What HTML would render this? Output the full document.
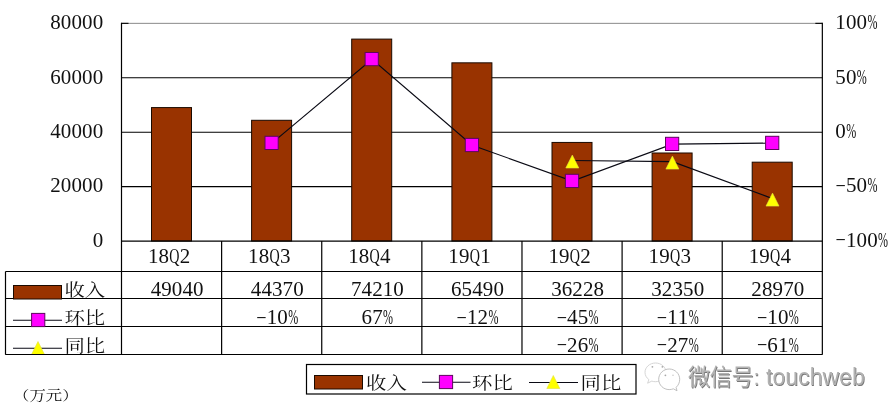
<!DOCTYPE html>
<html lang="zh"><head><meta charset="utf-8"><title>收入 环比 同比</title>
<style>
html,body{margin:0;padding:0;background:#fff;}
body{width:894px;height:416px;overflow:hidden;position:relative;font-family:"Liberation Serif","Noto Serif CJK SC",serif;}
svg{position:absolute;left:0;top:0;display:block;}
svg text{font-family:"Liberation Serif","Noto Serif CJK SC",serif;fill:#111;}
.n{font-size:20px;}
.c{font-size:20px;}
.m{font-size:14px;}
.wm{font-family:"Liberation Sans","Noto Sans CJK SC",sans-serif;font-size:22.8px;}
</style></head><body>
<svg width="894" height="416" viewBox="0 0 894 416">
<defs><filter id="bl" x="-10%" y="-30%" width="120%" height="160%"><feGaussianBlur stdDeviation="0.6"/></filter></defs>
<rect x="0" y="0" width="894" height="416" fill="#fff"/>
<line x1="121.5" y1="23.35" x2="822.34" y2="23.35" stroke="#8a8a8a" stroke-width="1"/>
<line x1="121.5" y1="186.59" x2="822.34" y2="186.59" stroke="#000" stroke-width="1.1"/>
<line x1="121.5" y1="132.18" x2="822.34" y2="132.18" stroke="#000" stroke-width="1.1"/>
<line x1="121.5" y1="77.76" x2="822.34" y2="77.76" stroke="#000" stroke-width="1.1"/>
<line x1="121.5" y1="23.35" x2="128.5" y2="23.35" stroke="#000" stroke-width="1.1"/>
<line x1="815.34" y1="23.35" x2="822.34" y2="23.35" stroke="#000" stroke-width="1.1"/>
<rect x="151.5" y="107.58" width="40" height="133.42" fill="#993300" stroke="#1a0a00" stroke-width="1"/>
<rect x="251.6" y="120.29" width="40" height="120.71" fill="#993300" stroke="#1a0a00" stroke-width="1"/>
<rect x="351.7" y="39.10" width="40" height="201.90" fill="#993300" stroke="#1a0a00" stroke-width="1"/>
<rect x="451.9" y="62.83" width="40" height="178.17" fill="#993300" stroke="#1a0a00" stroke-width="1"/>
<rect x="552.0" y="142.44" width="40" height="98.56" fill="#993300" stroke="#1a0a00" stroke-width="1"/>
<rect x="652.1" y="152.99" width="40" height="88.01" fill="#993300" stroke="#1a0a00" stroke-width="1"/>
<rect x="752.2" y="162.18" width="40" height="78.82" fill="#993300" stroke="#1a0a00" stroke-width="1"/>
<line x1="121.5" y1="22.85" x2="121.5" y2="354.5" stroke="#000" stroke-width="1.2"/>
<line x1="822.34" y1="22.85" x2="822.34" y2="354.5" stroke="#000" stroke-width="1.2"/>
<line x1="121.5" y1="241.2" x2="822.34" y2="241.2" stroke="#000" stroke-width="1.3"/>
<line x1="5.5" y1="271.5" x2="822.34" y2="271.5" stroke="#000" stroke-width="1.2"/>
<line x1="5.5" y1="298.5" x2="822.34" y2="298.5" stroke="#000" stroke-width="1.2"/>
<line x1="5.5" y1="326.5" x2="822.34" y2="326.5" stroke="#000" stroke-width="1.2"/>
<line x1="5.5" y1="354.5" x2="822.34" y2="354.5" stroke="#000" stroke-width="1.2"/>
<line x1="5.5" y1="271.5" x2="5.5" y2="354.5" stroke="#000" stroke-width="1.2"/>
<line x1="221.62" y1="241.0" x2="221.62" y2="354.5" stroke="#000" stroke-width="1.2"/>
<line x1="321.74" y1="241.0" x2="321.74" y2="354.5" stroke="#000" stroke-width="1.2"/>
<line x1="421.86" y1="241.0" x2="421.86" y2="354.5" stroke="#000" stroke-width="1.2"/>
<line x1="521.98" y1="241.0" x2="521.98" y2="354.5" stroke="#000" stroke-width="1.2"/>
<line x1="622.1" y1="241.0" x2="622.1" y2="354.5" stroke="#000" stroke-width="1.2"/>
<line x1="722.22" y1="241.0" x2="722.22" y2="354.5" stroke="#000" stroke-width="1.2"/>
<polyline fill="none" stroke="#0a0a14" stroke-width="1.15" points="271.9,143.1 372.0,59.3 472.2,145.2 572.3,181.1 672.4,144.1 772.5,143.1"/>
<polyline fill="none" stroke="#0a0a14" stroke-width="1.15" points="572.3,160.5 672.4,161.6 772.5,198.6"/>
<rect x="265.0" y="136.3" width="13.2" height="13.2" fill="#ff00ff" stroke="#5e065e" stroke-width="1"/>
<rect x="365.1" y="52.5" width="13.2" height="13.2" fill="#ff00ff" stroke="#5e065e" stroke-width="1"/>
<rect x="465.3" y="138.4" width="13.2" height="13.2" fill="#ff00ff" stroke="#5e065e" stroke-width="1"/>
<rect x="565.4" y="174.3" width="13.2" height="13.2" fill="#ff00ff" stroke="#5e065e" stroke-width="1"/>
<rect x="665.5" y="137.3" width="13.2" height="13.2" fill="#ff00ff" stroke="#5e065e" stroke-width="1"/>
<rect x="765.6" y="136.3" width="13.2" height="13.2" fill="#ff00ff" stroke="#5e065e" stroke-width="1"/>
<polygon points="572.3,155.0 578.8,168.0 565.8,168.0" fill="#ffff00" stroke="#e0e040" stroke-width="0.6"/>
<polygon points="672.4,156.1 678.9,169.1 665.9,169.1" fill="#ffff00" stroke="#e0e040" stroke-width="0.6"/>
<polygon points="772.5,193.1 779.0,206.1 766.0,206.1" fill="#ffff00" stroke="#e0e040" stroke-width="0.6"/>
<text class="n" transform="scale(1.05,1)" x="88.27" y="246.8">0</text>
<text class="n" transform="scale(1.05,1)" x="47.81 57.92 68.04 78.15 88.27" y="192.4">20000</text>
<text class="n" transform="scale(1.05,1)" x="47.81 57.92 68.04 78.15 88.27" y="138.0">40000</text>
<text class="n" transform="scale(1.05,1)" x="47.81 57.92 68.04 78.15 88.27" y="83.6">60000</text>
<text class="n" transform="scale(1.05,1)" x="47.81 57.92 68.04 78.15 88.27" y="29.1">80000</text>
<text class="n" transform="scale(1.05,1)" x="795.52 805.64 815.75 826.10" y="29.2">100<tspan textLength="9.52" lengthAdjust="spacingAndGlyphs">%</tspan></text>
<text class="n" transform="scale(1.05,1)" x="795.52 805.64 815.99" y="83.6">50<tspan textLength="9.52" lengthAdjust="spacingAndGlyphs">%</tspan></text>
<text class="n" transform="scale(1.05,1)" x="795.52 805.88" y="138.0">0<tspan textLength="9.52" lengthAdjust="spacingAndGlyphs">%</tspan></text>
<text class="n" transform="scale(1.05,1)" x="795.52 805.64 815.75 826.10" y="189.0 192.4 192.4 192.4"><tspan class="m" textLength="10.29" lengthAdjust="spacingAndGlyphs">-</tspan>50<tspan textLength="9.52" lengthAdjust="spacingAndGlyphs">%</tspan></text>
<text class="n" transform="scale(1.05,1)" x="795.52 805.64 815.75 825.87 836.22" y="243.4 246.8 246.8 246.8 246.8"><tspan class="m" textLength="10.29" lengthAdjust="spacingAndGlyphs">-</tspan>100<tspan textLength="9.52" lengthAdjust="spacingAndGlyphs">%</tspan></text>
<text class="n" transform="scale(1.05,1)" x="140.91 151.03 161.29 171.26" y="262.6">18<tspan textLength="9.71" lengthAdjust="spacingAndGlyphs">Q</tspan>2</text>
<text class="n" transform="scale(1.05,1)" x="236.27 246.38 256.64 266.61" y="262.6">18<tspan textLength="9.71" lengthAdjust="spacingAndGlyphs">Q</tspan>3</text>
<text class="n" transform="scale(1.05,1)" x="331.62 341.73 351.99 361.96" y="262.6">18<tspan textLength="9.71" lengthAdjust="spacingAndGlyphs">Q</tspan>4</text>
<text class="n" transform="scale(1.05,1)" x="426.97 437.09 447.34 457.31" y="262.6">19<tspan textLength="9.71" lengthAdjust="spacingAndGlyphs">Q</tspan>1</text>
<text class="n" transform="scale(1.05,1)" x="522.32 532.44 542.70 552.67" y="262.6">19<tspan textLength="9.71" lengthAdjust="spacingAndGlyphs">Q</tspan>2</text>
<text class="n" transform="scale(1.05,1)" x="617.68 627.79 638.05 648.02" y="262.6">19<tspan textLength="9.71" lengthAdjust="spacingAndGlyphs">Q</tspan>3</text>
<text class="n" transform="scale(1.05,1)" x="713.03 723.14 733.40 743.37" y="262.6">19<tspan textLength="9.71" lengthAdjust="spacingAndGlyphs">Q</tspan>4</text>
<text class="n" transform="scale(1.05,1)" x="143.48 153.59 163.70 173.82 183.93" y="295.6">49040</text>
<text class="n" transform="scale(1.05,1)" x="238.83 248.94 259.06 269.17 279.29" y="295.6">44370</text>
<text class="n" transform="scale(1.05,1)" x="243.89 254.00 264.11 274.47" y="320.6 324.0 324.0 324.0"><tspan class="m" textLength="10.29" lengthAdjust="spacingAndGlyphs">-</tspan>10<tspan textLength="9.52" lengthAdjust="spacingAndGlyphs">%</tspan></text>
<text class="n" transform="scale(1.05,1)" x="334.18 344.30 354.41 364.52 374.64" y="295.6">74210</text>
<text class="n" transform="scale(1.05,1)" x="344.30 354.41 364.76" y="324.0">67<tspan textLength="9.52" lengthAdjust="spacingAndGlyphs">%</tspan></text>
<text class="n" transform="scale(1.05,1)" x="429.53 439.65 449.76 459.88 469.99" y="295.6">65490</text>
<text class="n" transform="scale(1.05,1)" x="434.59 444.70 454.82 465.17" y="320.6 324.0 324.0 324.0"><tspan class="m" textLength="10.29" lengthAdjust="spacingAndGlyphs">-</tspan>12<tspan textLength="9.52" lengthAdjust="spacingAndGlyphs">%</tspan></text>
<text class="n" transform="scale(1.05,1)" x="524.89 535.00 545.11 555.23 565.34" y="295.6">36228</text>
<text class="n" transform="scale(1.05,1)" x="529.94 540.06 550.17 560.52" y="320.6 324.0 324.0 324.0"><tspan class="m" textLength="10.29" lengthAdjust="spacingAndGlyphs">-</tspan>45<tspan textLength="9.52" lengthAdjust="spacingAndGlyphs">%</tspan></text>
<text class="n" transform="scale(1.05,1)" x="529.94 540.06 550.17 560.52" y="348.5 351.9 351.9 351.9"><tspan class="m" textLength="10.29" lengthAdjust="spacingAndGlyphs">-</tspan>26<tspan textLength="9.52" lengthAdjust="spacingAndGlyphs">%</tspan></text>
<text class="n" transform="scale(1.05,1)" x="620.24 630.35 640.47 650.58 660.70" y="295.6">32350</text>
<text class="n" transform="scale(1.05,1)" x="625.30 635.41 645.52 655.88" y="320.6 324.0 324.0 324.0"><tspan class="m" textLength="10.29" lengthAdjust="spacingAndGlyphs">-</tspan>11<tspan textLength="9.52" lengthAdjust="spacingAndGlyphs">%</tspan></text>
<text class="n" transform="scale(1.05,1)" x="625.30 635.41 645.52 655.88" y="348.5 351.9 351.9 351.9"><tspan class="m" textLength="10.29" lengthAdjust="spacingAndGlyphs">-</tspan>27<tspan textLength="9.52" lengthAdjust="spacingAndGlyphs">%</tspan></text>
<text class="n" transform="scale(1.05,1)" x="715.59 725.70 735.82 745.93 756.05" y="295.6">28970</text>
<text class="n" transform="scale(1.05,1)" x="720.65 730.76 740.88 751.23" y="320.6 324.0 324.0 324.0"><tspan class="m" textLength="10.29" lengthAdjust="spacingAndGlyphs">-</tspan>10<tspan textLength="9.52" lengthAdjust="spacingAndGlyphs">%</tspan></text>
<text class="n" transform="scale(1.05,1)" x="720.65 730.76 740.88 751.23" y="348.5 351.9 351.9 351.9"><tspan class="m" textLength="10.29" lengthAdjust="spacingAndGlyphs">-</tspan>61<tspan textLength="9.52" lengthAdjust="spacingAndGlyphs">%</tspan></text>
<rect x="13.5" y="285.5" width="48" height="13.5" fill="#993300" stroke="#1a0a00" stroke-width="1"/>
<line x1="13" y1="320.3" x2="62" y2="320.3" stroke="#0a0a14" stroke-width="1.05"/>
<rect x="31.6" y="313.4" width="13.2" height="13.2" fill="#ff00ff" stroke="#5e065e" stroke-width="1"/>
<line x1="13" y1="348.3" x2="62" y2="348.3" stroke="#0a0a14" stroke-width="1.05"/>
<polygon points="38.0,341.5 44.5,354.5 31.5,354.5" fill="#ffff00" stroke="#e0e040" stroke-width="0.6"/>
<text class="c" transform="translate(64.4,295.8) scale(1.02,0.88)">收入</text>
<text class="c" transform="translate(64.4,324.4) scale(1.02,0.88)">环比</text>
<text class="c" transform="translate(64.4,351.8) scale(1.02,0.88)">同比</text>
<line x1="5.5" y1="354.5" x2="822.34" y2="354.5" stroke="#000" stroke-width="1.2"/>
<rect x="306.5" y="364.5" width="329.5" height="29.5" fill="#fff" stroke="#000" stroke-width="1.2"/>
<rect x="314.5" y="375.5" width="48" height="13.5" fill="#993300" stroke="#1a0a00" stroke-width="1"/>
<text class="c" transform="translate(366,389) scale(1.02,0.88)">收入</text>
<line x1="422" y1="382.3" x2="470.5" y2="382.3" stroke="#0a0a14" stroke-width="1.05"/>
<rect x="439.4" y="375.4" width="13.2" height="13.2" fill="#ff00ff" stroke="#5e065e" stroke-width="1"/>
<text class="c" transform="translate(472,389) scale(1.02,0.88)">环比</text>
<line x1="529" y1="382.5" x2="578" y2="382.5" stroke="#0a0a14" stroke-width="1.05"/>
<polygon points="553.3,375.5 559.8,388.5 546.8,388.5" fill="#ffff00" stroke="#e0e040" stroke-width="0.6"/>
<text class="c" transform="translate(580.5,389) scale(1.02,0.88)">同比</text>
<text transform="translate(13,399.6) scale(1.05,0.86)" style="font-size:15.6px">（万元）</text>
<g id="wm">
<g fill="#fff" stroke-width="0.9">
<path stroke="#d0d0d0" d="M655.5 363c-5.800 0-10.500 4.200-10.500 9.400 0 2.900 1.500 5.500 3.900 7.200l-1.300 3.600 4.200-2.100c1.200.4 2.400.6 3.700.6 5.800 0 10.500-4.200 10.500-9.300 0-5.200-4.700-9.400-10.500-9.400z"/>
<path stroke="#b9b9b9" d="M669.2 369c-5.800 0-10.500 4.600-10.500 10.300 0 5.700 4.700 10.300 10.500 10.300 1.500 0 2.900-.3 4.200-.8l3.600 2-.9-3.500c2.200-1.900 3.600-4.700 3.600-8 0-5.700-4.700-10.300-10.500-10.300z"/>
</g>
<g fill="#a8a8a8"><circle cx="652.4" cy="366.800" r="0.9"/><circle cx="662.4" cy="366.800" r="0.9"/><circle cx="665.400" cy="375.300" r="0.9"/><circle cx="673" cy="375.300" r="0.8" opacity=".6"/></g>
<text class="wm" x="688.0" y="384.8" style="fill:#fff;stroke:#fff;stroke-width:3;stroke-linejoin:round;opacity:.9" filter="url(#bl)"><tspan style="font-size:22.3px;letter-spacing:-0.5px">微信号:</tspan> <tspan x="766.0" style="font-size:23.1px">touchweb</tspan></text>
<text class="wm" x="688.7" y="385.5" style="fill:#777"><tspan style="font-size:22.3px;letter-spacing:-0.5px">微信号:</tspan> <tspan x="766.7" style="font-size:23.1px">touchweb</tspan></text>
<text class="wm" x="688.0" y="384.8" style="fill:#b2b2b2"><tspan style="font-size:22.3px;letter-spacing:-0.5px">微信号:</tspan> <tspan x="766.0" style="font-size:23.1px">touchweb</tspan></text>
</g>
</svg></body></html>
